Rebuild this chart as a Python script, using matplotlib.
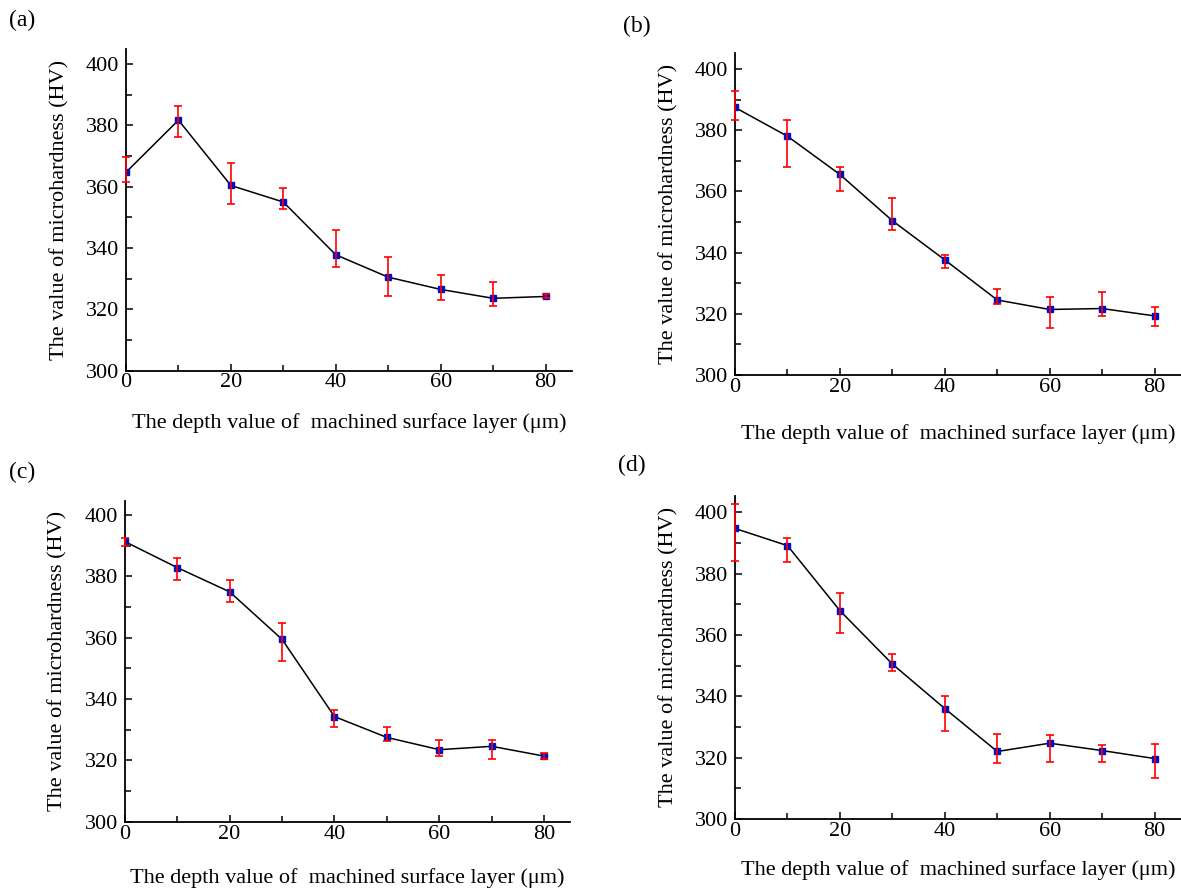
import matplotlib.pyplot as plt
from matplotlib.ticker import MultipleLocator

plt.rcParams['font.family'] = ['Liberation Serif', 'DejaVu Serif']

# depth below machined surface (um)
depth = [0, 10, 20, 30, 40, 50, 60, 70, 80]

# microhardness (HV) with error bar ends
hv_a = [364.7, 381.7, 360.4, 355.0, 337.8, 330.5, 326.5, 323.6, 324.2]
top_a = [369.8, 386.3, 367.7, 359.6, 345.9, 337.0, 331.3, 328.8, 324.9]
bot_a = [361.6, 376.2, 354.2, 352.7, 333.8, 324.5, 323.2, 321.0, 323.6]

hv_b = [387.4, 378.0, 365.5, 350.4, 337.6, 324.5, 321.4, 321.7, 319.3]
top_b = [392.7, 383.2, 368.0, 357.7, 339.3, 328.0, 325.5, 327.2, 322.3]
bot_b = [383.3, 367.9, 360.0, 347.3, 335.1, 323.2, 315.2, 319.3, 315.9]

hv_c = [391.4, 382.9, 375.0, 359.5, 334.3, 327.5, 323.5, 324.6, 321.4]
top_c = [392.7, 386.1, 379.0, 364.7, 336.5, 331.0, 326.5, 326.6, 322.4]
bot_c = [390.0, 378.9, 371.6, 352.3, 330.9, 326.4, 321.3, 320.4, 320.4]

hv_d = [394.7, 389.1, 367.9, 350.5, 336.0, 322.0, 324.7, 322.3, 319.7]
top_d = [402.7, 391.5, 373.6, 353.9, 340.0, 327.7, 327.5, 324.2, 324.3]
bot_d = [384.2, 383.9, 360.7, 348.2, 328.6, 318.4, 318.5, 318.5, 313.3]

panel_names = ["(a)", "(b)", "(c)", "(d)"]
xlabel = "The depth value of  machined surface layer (\u03bcm)"
ylabel = "The value of microhardness (HV)"

fig = plt.figure(figsize=(11.81, 8.90), dpi=100)

# axes rectangles in figure fraction, and panel label positions (px)
rects = [[0.1067, 0.5835, 0.3774, 0.3611],
         [0.6224, 0.5787, 0.3774, 0.3621],
         [0.1056, 0.0767, 0.3774, 0.3607],
         [0.6224, 0.0798, 0.3774, 0.3633]]
label_xy = [(22, 20), (637, 26), (22, 472), (632, 465)]
ytops = [404.8, 405.3, 404.7, 405.4]
xpads = [15, 20, 18, 14]

series = [(hv_a, top_a, bot_a), (hv_b, top_b, bot_b),
          (hv_c, top_c, bot_c), (hv_d, top_d, bot_d)]

for i, (hv, top, bot) in enumerate(series):
    ax = fig.add_axes(rects[i])
    err_lo = [v - b for v, b in zip(hv, bot)]
    err_hi = [t - v for v, t in zip(hv, top)]
    ax.plot(depth, hv, color="black", lw=1.1, marker="s", ms=4.8,
            mfc="#0010c0", mec="#0010c0", zorder=2)
    eb = ax.errorbar(depth, hv, yerr=[err_lo, err_hi], fmt="none",
                     ecolor="red", elinewidth=1.2, capsize=2.8,
                     capthick=1.2, zorder=3)
    for art in eb.lines[1] + eb.lines[2]:
        art.set_clip_on(False)

    ax.set_xlim(0, 85)
    ax.set_ylim(300, ytops[i])
    ax.xaxis.set_major_locator(MultipleLocator(20))
    ax.xaxis.set_minor_locator(MultipleLocator(10))
    ax.yaxis.set_major_locator(MultipleLocator(20))
    ax.yaxis.set_minor_locator(MultipleLocator(10))
    ax.tick_params(which="major", direction="in", length=5, width=1.1,
                   labelsize=16)
    ax.tick_params(which="minor", direction="in", length=4, width=1.1)
    ax.tick_params(axis="x", pad=2)
    ax.tick_params(axis="y", pad=5)
    for s in ["top", "right"]:
        ax.spines[s].set_visible(False)
    for s in ["left", "bottom"]:
        ax.spines[s].set_linewidth(1.3)

    ax.set_xlabel(xlabel, fontsize=16, labelpad=xpads[i])
    ax.set_ylabel(ylabel, fontsize=16, labelpad=12)

    lx, ly = label_xy[i]
    fig.text(lx / 1181, 1 - ly / 890, panel_names[i], fontsize=17,
             ha="center", va="center")

fig.savefig("out.png", dpi=100)
